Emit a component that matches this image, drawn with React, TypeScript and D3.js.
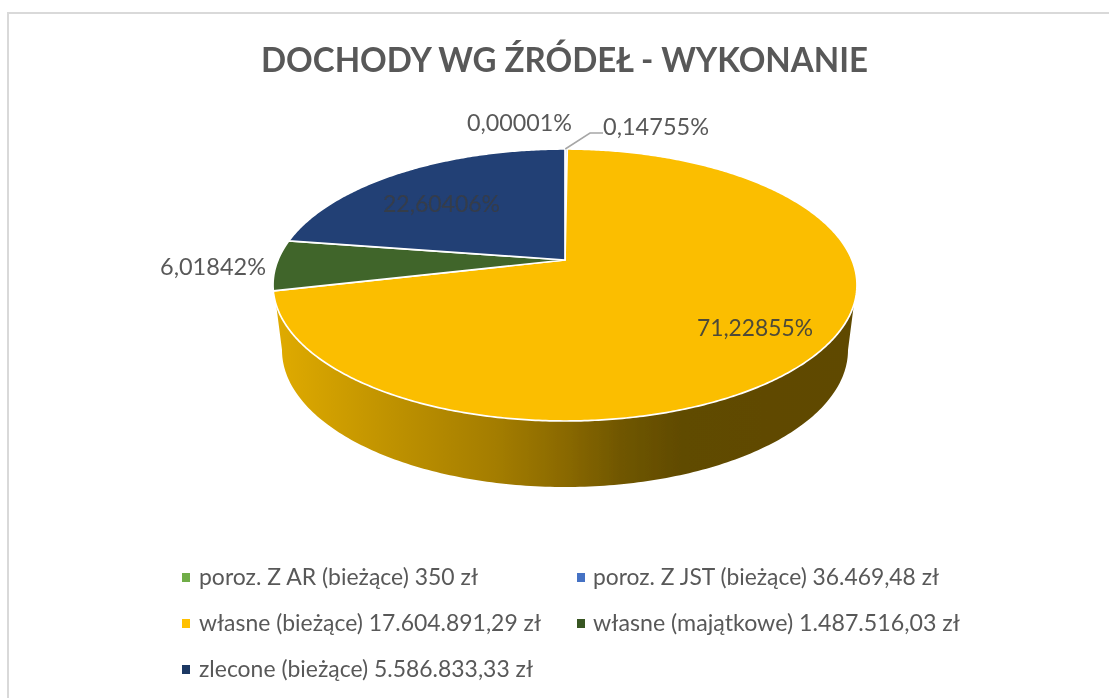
import React from "react";
import * as d3 from "d3";

// ---- data ----
const categories = [
  "poroz. Z AR (bieżące) 350 zł",
  "poroz. Z JST (bieżące) 36.469,48 zł",
  "własne (bieżące) 17.604.891,29 zł",
  "własne (majątkowe) 1.487.516,03 zł",
  "zlecone (bieżące) 5.586.833,33 zł",
];
const values = [350, 36469.48, 17604891.29, 1487516.03, 5586833.33];
const percentLabels = ["0,00001%", "0,14755%", "71,22855%", "6,01842%", "22,60406%"];
const sliceColors = ["#70AD47", "#4472C4", "#FBBE00", "#41652A", "#203F74"];
const legendColors = ["#70AD47", "#4472C4", "#FFC000", "#385723", "#1F3864"];
const titleText = "DOCHODY WG ŹRÓDEŁ - WYKONANIE";

// ---- layout ----
const W = 1109, H = 698;
const cx = 565, cy = 260;
const radiusX = 287, persp = -0.1838, radiusY = 131.4;
const labelBoxes = [
  { x: 467, y: 131, w: 105, fill: "#595959" },
  { x: 603, y: 135, w: 106, fill: "#595959" },
  { x: 697, y: 336, w: 116, fill: "#4d4a38" },
  { x: 160, y: 275, w: 106, fill: "#595959" },
  { x: 383, y: 212, w: 117, fill: "#363c4a" },
];
const legendBoxes = [
  { x: 182, tx: 199, y: 577, w: 279 },
  { x: 577, tx: 593, y: 577, w: 346 },
  { x: 182, tx: 199, y: 623, w: 342 },
  { x: 577, tx: 593, y: 623, w: 367 },
  { x: 182, tx: 199, y: 669, w: 334 },
];

// tilted disc: unit circle angle (clockwise from top) -> screen point
const project = (angle: number, r = 1): [number, number] => {
  const u = Math.sin(angle) * r;
  const v = -Math.cos(angle) * r;
  const d = 1 + persp * v;
  return [cx + (radiusX * u) / d, cy + (radiusY * v) / d];
};
const pathLine = d3.line();

const ellipsePoint = (t: number, ex: number, ey: number, rx: number, ry: number): [number, number] => [
  ex + rx * Math.cos(t),
  ey + ry * Math.sin(t),
];

export default function App() {
  const arcs = d3.pie<number>().sort(null).value((d) => d).startAngle(0).endAngle(2 * Math.PI)(values);

  const slicePath = (a0: number, a1: number) => {
    const n = Math.max(2, Math.ceil((a1 - a0) / 0.01));
    const pts: [number, number][] = [[cx, cy]];
    d3.range(n + 1).forEach((i) => pts.push(project(a0 + ((a1 - a0) * i) / n)));
    return pathLine(pts) + "Z";
  };

  // side wall: upper rim (hidden under the top face) and lower silhouette
  const wallPts: [number, number][] = [];
  const topAt = Math.asin(20 / 136);
  wallPts.push(ellipsePoint(Math.PI - topAt, 565, 285, 292, 136));
  d3.range(0, 181).forEach((i) => {
    const t = Math.PI - (Math.PI * i) / 180;
    wallPts.push(ellipsePoint(t, 565, 350, 283, 137));
  });
  wallPts.push(ellipsePoint(topAt, 565, 285, 292, 136));
  d3.range(0, 181).forEach((i) => {
    const t = topAt + ((Math.PI - 2 * topAt) * i) / 180;
    wallPts.push(ellipsePoint(t, 565, 280, 292, 130));
  });
  const wallPath = pathLine(wallPts) + "Z";

  const leader = pathLine([project(arcs[1].startAngle + 0.001), [590, 133], [603, 133]]);

  return (
    <svg
      width={W}
      height={H}
      viewBox={`0 0 ${W} ${H}`}
      style={{ position: "absolute", left: 0, top: 0, display: "block", background: "#fff" }}
    >
      <defs>
        <linearGradient id="wallGrad" gradientUnits="userSpaceOnUse" x1={275} x2={855} y1={0} y2={0}>
          <stop offset="0" stopColor="#E0AB00" />
          <stop offset="0.2" stopColor="#BF9200" />
          <stop offset="0.38" stopColor="#A47D00" />
          <stop offset="0.5" stopColor="#8A6900" />
          <stop offset="0.6" stopColor="#6F5600" />
          <stop offset="0.7" stopColor="#614B00" />
          <stop offset="1" stopColor="#5F4900" />
        </linearGradient>
        <filter id="soft" x="0" y="0" width="100%" height="100%">
          <feGaussianBlur stdDeviation="0.65" />
        </filter>
      </defs>
      <g filter="url(#soft)">
        <rect width={W} height={H} fill="#fff" />
        <path d={`M8,698V13H${W}`} fill="none" stroke="#D9D9D9" strokeWidth={2} />
        <text
          x={261}
          y={72}
          fontFamily="Lato, 'Open Sans', sans-serif"
          fontWeight={700}
          fontSize={34}
          fill="#595959"
          textLength={607}
          lengthAdjust="spacingAndGlyphs"
        >
          {titleText}
        </text>

        <path d={wallPath} fill="url(#wallGrad)" />
        {arcs.map((a, i) => (
          <path
            key={categories[i]}
            d={slicePath(a.startAngle, a.endAngle)}
            fill={sliceColors[i]}
            stroke="#fff"
            strokeWidth={1.7}
            strokeLinejoin="round"
          />
        ))}
        <path d={leader ?? ""} fill="none" stroke="#A6A6A6" strokeWidth={1.5} />

        {percentLabels.map((t, i) => (
          <text
            key={t}
            x={labelBoxes[i].x}
            y={labelBoxes[i].y}
            fontFamily="Lato, 'Open Sans', sans-serif"
            fontSize={24}
            fill={labelBoxes[i].fill}
            textLength={labelBoxes[i].w}
            lengthAdjust="spacingAndGlyphs"
          >
            {t}
          </text>
        ))}

        {categories.map((c, i) => (
          <g key={c}>
            <rect x={legendBoxes[i].x} y={legendBoxes[i].y - 4} width={8} height={9} fill={legendColors[i]} />
            <text
              x={legendBoxes[i].tx}
              y={legendBoxes[i].y + 8}
              fontFamily="Lato, 'Open Sans', sans-serif"
              fontSize={24}
              fill="#595959"
              textLength={legendBoxes[i].w}
              lengthAdjust="spacingAndGlyphs"
            >
              {c}
            </text>
          </g>
        ))}
      </g>
    </svg>
  );
}
